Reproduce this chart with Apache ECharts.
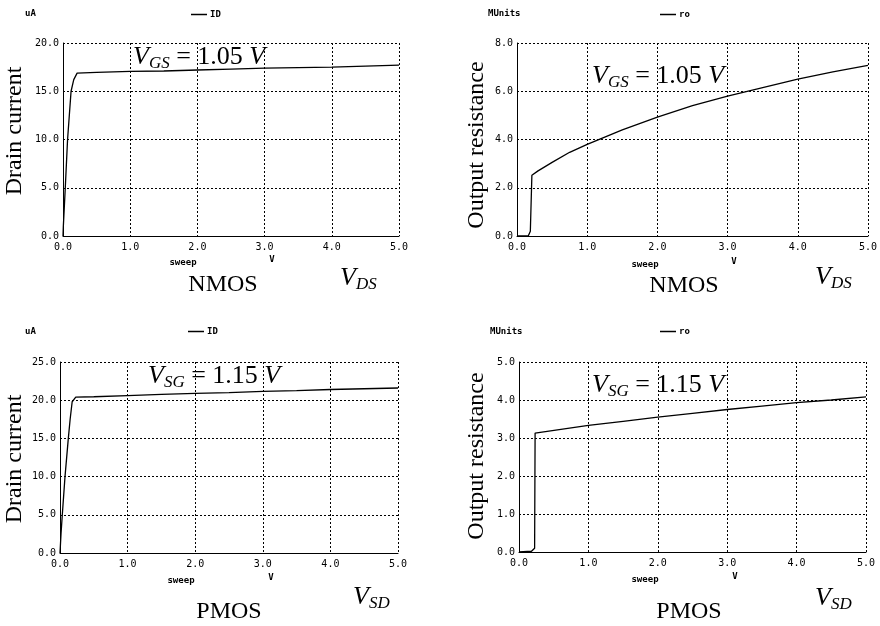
<!DOCTYPE html>
<html>
<head>
<meta charset="utf-8">
<script src="https://cdn.jsdelivr.net/npm/echarts@6/dist/echarts.min.js"></script>
<style>
  html, body { margin: 0; padding: 0; background: #fff; }
  #main { width: 880px; height: 626px; }
</style>
</head>
<body>
<div id="main"></div>
<script>
// 数据：NMOS / PMOS 的 I-V 与输出电阻曲线
var nmosVds = [0, 0.005, 0.034, 0.068, 0.12, 0.16, 0.21, 0.5, 1, 1.5, 2, 2.5, 3, 3.5, 4, 4.5, 5];
var nmosId = [0, 1, 5, 10, 15, 16.2, 16.88, 16.95, 17.05, 17.1, 17.2, 17.3, 17.4, 17.45, 17.5, 17.6, 17.7];

var nmosRoX = [0, 0.16, 0.19, 0.21, 0.212, 0.3, 0.5, 0.75, 1, 1.5, 2, 2.5, 3, 3.5, 4, 4.5, 5];
var nmosRo = [0, 0, 0.2, 0.25, 2.52, 2.7, 3.05, 3.47, 3.8, 4.4, 4.93, 5.4, 5.8, 6.15, 6.5, 6.8, 7.07];

var pmosVsd = [0, 0.015, 0.034, 0.074, 0.123, 0.15, 0.18, 0.233, 0.5, 1, 1.5, 2, 2.5, 3, 3.5, 4, 4.5, 5];
var pmosId = [0, 2.5, 5, 10, 15, 17.5, 19.8, 20.4, 20.45, 20.6, 20.75, 20.9, 21.0, 21.15, 21.25, 21.4, 21.5, 21.6];

var pmosRoX = [0, 0.18, 0.225, 0.23, 0.232, 1, 1.5, 2, 2.5, 3, 3.5, 4, 4.5, 5];
var pmosRo = [0, 0.02, 0.1, 0.13, 3.13, 3.33, 3.44, 3.55, 3.65, 3.75, 3.84, 3.93, 4.0, 4.08];

var yMaxes = [20, 8, 25, 5];
var yIntervals = [5, 2, 5, 1];

function pairs(xs, ys) {
    return xs.map(function (x, i) { return [x, ys[i]]; });
}

var chart = echarts.init(document.getElementById('main'));

var mono = 'DejaVu Sans Mono';
var serif = 'Liberation Serif';

var grids = [
    {left: 63, top: 43, width: 336, height: 193},
    {left: 517, top: 43, width: 351, height: 193},
    {left: 60, top: 362, width: 338, height: 191},
    {left: 519, top: 362, width: 347, height: 190}
];

var splitStyle = {show: true, lineStyle: {color: '#000', type: [2, 2], width: 1}};
var axisLine = {show: true, lineStyle: {color: '#000', width: 1}};
var labelStyle = {color: '#000', fontFamily: mono, fontSize: 10};

var xAxes = grids.map(function (g, i) {
    return {
        type: 'value', gridIndex: i, min: 0, max: 5, interval: 1,
        axisLine: axisLine, axisTick: {show: false}, splitLine: splitStyle,
        axisLabel: Object.assign({margin: 6, formatter: function (v) { return v.toFixed(1); }}, labelStyle)
    };
});
var yAxes = grids.map(function (g, i) {
    return {
        type: 'value', gridIndex: i, min: 0, max: yMaxes[i], interval: yIntervals[i],
        axisLine: axisLine, axisTick: {show: false}, splitLine: splitStyle,
        axisLabel: Object.assign({margin: 4, formatter: function (v) { return v.toFixed(1); }}, labelStyle)
    };
});

function lineSeries(name, idx, data) {
    return {
        name: name, type: 'line', xAxisIndex: idx, yAxisIndex: idx,
        showSymbol: false, symbol: 'none', animation: false,
        lineStyle: {color: '#000', width: 1.3},
        itemStyle: {color: '#000'},
        data: data
    };
}

function legendAt(name, left, top) {
    return {
        data: [name], left: left, top: top, icon: 'rect', padding: 0,
        itemWidth: 16, itemHeight: 1.5, itemGap: 4,
        itemStyle: {color: '#000'}, selectedMode: false,
        textStyle: {fontFamily: mono, fontSize: 9, fontWeight: 'bold', color: '#000', padding: [0, 0, 0, -2]}
    };
}

var vRich = {
    v: {fontFamily: serif, fontStyle: 'italic', fontSize: 26, lineHeight: 30, color: '#000'},
    s: {fontFamily: serif, fontStyle: 'italic', fontSize: 17, lineHeight: 17, verticalAlign: 'bottom', color: '#000'},
    t: {fontFamily: serif, fontSize: 26, lineHeight: 30, color: '#000'}
};

function txt(x, y, text, font, size, opts) {
    opts = opts || {};
    return {
        type: 'text', x: x, y: y, rotation: opts.rotation || 0, silent: true,
        style: {
            text: text, fill: '#000', fontFamily: font, fontSize: size,
            fontWeight: opts.bold ? 'bold' : 'normal',
            align: opts.align || 'center', verticalAlign: 'middle'
        }
    };
}

function richTxt(x, y, text) {
    return {
        type: 'text', x: x, y: y, silent: true,
        style: {text: text, rich: vRich, align: 'left', verticalAlign: 'middle'}
    };
}

var graphics = [
    // 左上 NMOS 电流
    txt(25, 14, 'uA', mono, 9, {bold: true, align: 'left'}),
    txt(15, 131, 'Drain current', serif, 24, {rotation: Math.PI / 2}),
    richTxt(133, 57, '{v|V}{s|GS}{t| = 1.05 }{v|V}'),
    txt(183, 263, 'sweep', mono, 9, {bold: true}),
    txt(272, 260, 'V', mono, 9, {bold: true}),
    txt(223, 285, 'NMOS', serif, 24),
    richTxt(340, 278, '{v|V}{s|DS}'),
    // 右上 NMOS ro
    txt(488, 14, 'MUnits', mono, 9, {bold: true, align: 'left'}),
    txt(477, 145, 'Output resistance', serif, 24, {rotation: Math.PI / 2}),
    richTxt(592, 76, '{v|V}{s|GS}{t| = 1.05 }{v|V}'),
    txt(645, 265, 'sweep', mono, 9, {bold: true}),
    txt(734, 262, 'V', mono, 9, {bold: true}),
    txt(684, 286, 'NMOS', serif, 24),
    richTxt(815, 277, '{v|V}{s|DS}'),
    // 左下 PMOS 电流
    txt(25, 332, 'uA', mono, 9, {bold: true, align: 'left'}),
    txt(15, 459, 'Drain current', serif, 24, {rotation: Math.PI / 2}),
    richTxt(148, 376, '{v|V}{s|SG}{t| = 1.15 }{v|V}'),
    txt(181, 581, 'sweep', mono, 9, {bold: true}),
    txt(271, 578, 'V', mono, 9, {bold: true}),
    txt(229, 612, 'PMOS', serif, 24),
    richTxt(353, 597, '{v|V}{s|SD}'),
    // 右下 PMOS ro
    txt(490, 332, 'MUnits', mono, 9, {bold: true, align: 'left'}),
    txt(477, 456, 'Output resistance', serif, 24, {rotation: Math.PI / 2}),
    richTxt(592, 385, '{v|V}{s|SG}{t| = 1.15 }{v|V}'),
    txt(645, 580, 'sweep', mono, 9, {bold: true}),
    txt(735, 577, 'V', mono, 9, {bold: true}),
    txt(689, 612, 'PMOS', serif, 24),
    richTxt(815, 598, '{v|V}{s|SD}')
];

var option = {
    backgroundColor: '#fff',
    animation: false,
    grid: grids,
    xAxis: xAxes,
    yAxis: yAxes,
    legend: [
        legendAt('ID', 191, 10),
        legendAt('ro', 660, 10),
        legendAt('ID', 188, 327),
        legendAt('ro', 660, 327)
    ],
    series: [
        lineSeries('ID', 0, pairs(nmosVds, nmosId)),
        lineSeries('ro', 1, pairs(nmosRoX, nmosRo)),
        lineSeries('ID', 2, pairs(pmosVsd, pmosId)),
        lineSeries('ro', 3, pairs(pmosRoX, pmosRo))
    ],
    graphic: graphics
};

chart.setOption(option);
</script>
</body>
</html>
